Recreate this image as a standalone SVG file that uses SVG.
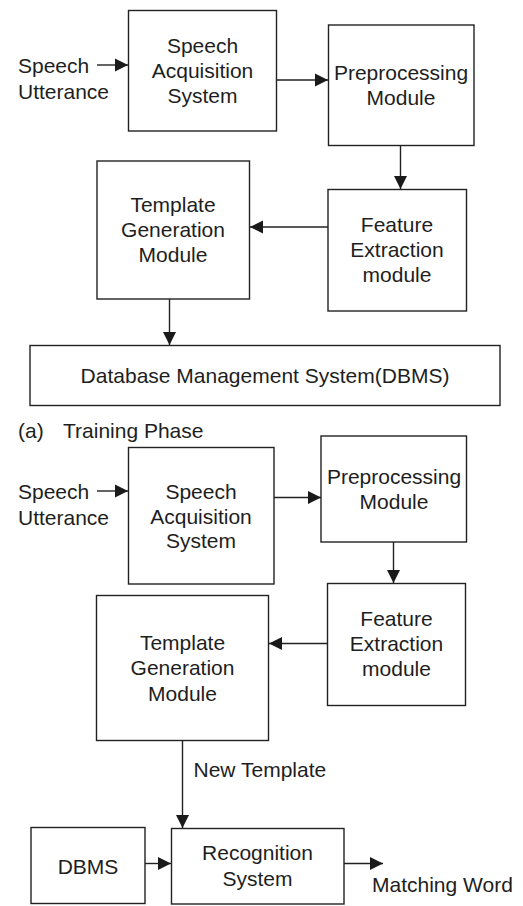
<svg xmlns="http://www.w3.org/2000/svg" width="523" height="906" viewBox="0 0 523 906">
  <style>
    .box { fill: #ffffff; stroke: #222222; stroke-width: 1.4; }
    .lbl { font-family: "Liberation Sans", Arial, sans-serif; font-size: 21px; fill: #1e1e1e; }
    .mid { text-anchor: middle; }
    .edge { fill: none; stroke: #222222; stroke-width: 1.4; marker-end: url(#arrow); }
  </style>
  <defs>
    <marker id="arrow" markerUnits="userSpaceOnUse" markerWidth="14" markerHeight="14" viewBox="0 0 14 14" refX="13" refY="7" orient="auto">
      <path d="M0,0.5 L13,7 L0,13.5 Z" fill="#1a1a1a"/>
    </marker>
  </defs>
  <rect width="523" height="906" fill="#ffffff"/>

  <!-- (a) training phase -->
  <g id="input-a">
    <text class="lbl" x="18" y="73">Speech</text>
    <text class="lbl" x="18" y="99">Utterance</text>
  </g>
  <g id="acq-a">
    <rect class="box" x="128.5" y="10.5" width="148" height="120.5"/>
    <text class="lbl mid" x="202.5" y="53">Speech</text>
    <text class="lbl mid" x="202.5" y="78">Acquisition</text>
    <text class="lbl mid" x="202.5" y="103">System</text>
  </g>
  <g id="prep-a">
    <rect class="box" x="328.5" y="25" width="145.5" height="120.5"/>
    <text class="lbl mid" x="401" y="80">Preprocessing</text>
    <text class="lbl mid" x="401" y="105">Module</text>
  </g>
  <g id="feat-a">
    <rect class="box" x="328" y="189.5" width="138.5" height="121.5"/>
    <text class="lbl mid" x="397" y="232">Feature</text>
    <text class="lbl mid" x="397" y="257">Extraction</text>
    <text class="lbl mid" x="397" y="282">module</text>
  </g>
  <g id="tmpl-a">
    <rect class="box" x="97" y="161" width="152.5" height="138"/>
    <text class="lbl mid" x="173" y="212">Template</text>
    <text class="lbl mid" x="173" y="237">Generation</text>
    <text class="lbl mid" x="173" y="262">Module</text>
  </g>
  <g id="dbms-a">
    <rect class="box" x="30" y="345.5" width="470" height="60"/>
    <text class="lbl mid" x="265" y="382.5">Database Management System(DBMS)</text>
  </g>
  <g id="caption-a">
    <text class="lbl" x="18" y="438">(a)</text>
    <text class="lbl" x="63" y="438">Training Phase</text>
  </g>

  <!-- recognition phase -->
  <g id="input-b">
    <text class="lbl" x="18" y="499">Speech</text>
    <text class="lbl" x="18" y="525">Utterance</text>
  </g>
  <g id="acq-b">
    <rect class="box" x="128.5" y="447.5" width="145.5" height="136.5"/>
    <text class="lbl mid" x="201" y="498.5">Speech</text>
    <text class="lbl mid" x="201" y="523.5">Acquisition</text>
    <text class="lbl mid" x="201" y="548">System</text>
  </g>
  <g id="prep-b">
    <rect class="box" x="321" y="436" width="145.5" height="106"/>
    <text class="lbl mid" x="394" y="483.5">Preprocessing</text>
    <text class="lbl mid" x="394" y="508.5">Module</text>
  </g>
  <g id="feat-b">
    <rect class="box" x="327.5" y="583.5" width="138" height="122"/>
    <text class="lbl mid" x="396.5" y="626">Feature</text>
    <text class="lbl mid" x="396.5" y="651">Extraction</text>
    <text class="lbl mid" x="396.5" y="676">module</text>
  </g>
  <g id="tmpl-b">
    <rect class="box" x="96.5" y="595.5" width="172" height="145"/>
    <text class="lbl mid" x="182.5" y="649.5">Template</text>
    <text class="lbl mid" x="182.5" y="675">Generation</text>
    <text class="lbl mid" x="182.5" y="700.5">Module</text>
  </g>
  <g id="dbms-b">
    <rect class="box" x="31" y="827.5" width="114" height="76"/>
    <text class="lbl mid" x="88" y="873.5">DBMS</text>
  </g>
  <g id="recog-b">
    <rect class="box" x="171.5" y="828.5" width="172.5" height="75.5"/>
    <text class="lbl mid" x="257.5" y="860">Recognition</text>
    <text class="lbl mid" x="257.5" y="886">System</text>
  </g>
  <g id="output-b">
    <text class="lbl" x="372" y="892">Matching Word</text>
  </g>

  <g id="connectors">
    <!-- training phase -->
    <line class="edge" x1="97" y1="65" x2="128" y2="65"/>
    <line class="edge" x1="277" y1="80" x2="328" y2="80"/>
    <line class="edge" x1="400.5" y1="145.5" x2="400.5" y2="189"/>
    <line class="edge" x1="328" y1="227" x2="250" y2="227"/>
    <line class="edge" x1="169.5" y1="299" x2="169.5" y2="345"/>
    <!-- recognition phase -->
    <line class="edge" x1="97" y1="491" x2="128" y2="491"/>
    <line class="edge" x1="274" y1="497.5" x2="321" y2="497.5"/>
    <line class="edge" x1="393.5" y1="542" x2="393.5" y2="583"/>
    <line class="edge" x1="327.5" y1="643.5" x2="269" y2="643.5"/>
    <line class="edge" x1="182.5" y1="740.5" x2="182.5" y2="828"/>
    <text class="lbl" x="193.5" y="777">New Template</text>
    <line class="edge" x1="145" y1="863.5" x2="171" y2="863.5"/>
    <line class="edge" x1="344" y1="863.5" x2="383" y2="863.5"/>
  </g>
</svg>
